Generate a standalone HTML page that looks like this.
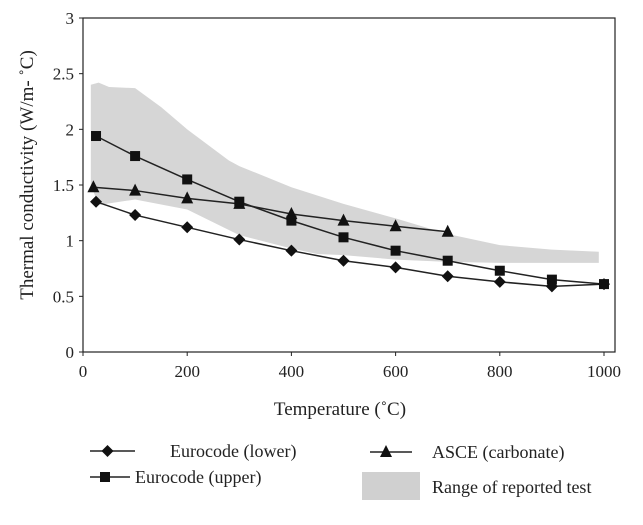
<!DOCTYPE html>
<html><head><meta charset="utf-8"><style>
body{margin:0;background:#fff}
svg text{font-family:"Liberation Serif",serif;fill:#222}
</style></head><body>
<svg width="643" height="520">
<g id="plot"></g>
<g id="legend"></g>
</svg>
<script>
const ticksX=[0,200,400,600,800,1000];
const ticksY=[0,0.5,1,1.5,2,2.5,3];
const tempLower=[25,100,200,300,400,500,600,700,800,900,1000];
const valLower=[1.35,1.23,1.12,1.01,0.91,0.82,0.76,0.68,0.63,0.59,0.61];
const tempUpper=[25,100,200,300,400,500,600,700,800,900,1000];
const valUpper=[1.94,1.76,1.55,1.35,1.18,1.03,0.91,0.82,0.73,0.65,0.61];
const tempAsce=[20,100,200,300,400,500,600,700];
const valAsce=[1.48,1.45,1.38,1.33,1.24,1.18,1.13,1.08];
const bandUpperT=[15,30,50,100,150,200,280,300,400,500,600,700,800,900,990];
const bandUpperV=[2.4,2.42,2.38,2.37,2.2,2.0,1.72,1.67,1.48,1.33,1.2,1.06,0.96,0.92,0.9];
const bandLowerT=[990,900,800,700,600,500,450,400,300,200,100,30,15];
const bandLowerV=[0.8,0.8,0.8,0.81,0.83,0.87,0.88,0.93,1.05,1.28,1.37,1.32,1.5];

const NS="http://www.w3.org/2000/svg";
const X0=83,X1=604,Y0=352,Y1=18,R=615;
const sx=t=>X0+(X1-X0)*t/1000, sy=v=>Y0-(Y0-Y1)*v/3;
const plot=document.getElementById('plot');
function mk(tag,a,p){const e=document.createElementNS(NS,tag);for(const k in a)e.setAttribute(k,a[k]);(p||plot).appendChild(e);return e;}

let pts=bandUpperT.map((t,i)=>sx(t)+','+sy(bandUpperV[i])).concat(bandLowerT.map((t,i)=>sx(t)+','+sy(bandLowerV[i])));
const band=mk('polygon',{points:pts.join(' '),fill:'#d6d6d6'});



const fr=mk('rect',{x:X0,y:Y1,width:R-X0,height:Y0-Y1,fill:'none',stroke:'#222','stroke-width':1.2});


ticksX.forEach(t=>{
  mk('line',{x1:sx(t),x2:sx(t),y1:Y0,y2:Y0+4,stroke:'#222'});
  const tx=mk('text',{x:sx(t),y:Y0+25,'text-anchor':'middle','font-size':17});
  tx.textContent=t;
  
  
});
ticksY.forEach(v=>{
  mk('line',{x1:X0-4,x2:X0,y1:sy(v),y2:sy(v),stroke:'#222'});
  const tx=mk('text',{x:X0-9,y:sy(v)+6,'text-anchor':'end','font-size':17});
  tx.textContent=v;
  
  
});
const xt=mk('text',{x:340,y:415,'text-anchor':'middle','font-size':19});
xt.textContent='Temperature (˚C)';


const yt=mk('text',{x:0,y:0,'text-anchor':'middle','font-size':19,transform:'translate(33,175) rotate(-90)'});
yt.textContent='Thermal conductivity (W/m- ˚C)';



function marker(type,x,y,p){
  if(type==='d')return mk('polygon',{points:`${x},${y-6} ${x+6},${y} ${x},${y+6} ${x-6},${y}`,fill:'#111'},p);
  if(type==='s')return mk('rect',{x:x-5,y:y-5,width:10,height:10,fill:'#111'},p);
  return mk('polygon',{points:`${x},${y-7} ${x+6},${y+5} ${x-6},${y+5}`,fill:'#111'},p);
}
function series(T,V,type,name){
  const g=mk('g',{});
  
  
  mk('polyline',{points:T.map((t,i)=>sx(t)+','+sy(V[i])).join(' '),fill:'none',stroke:'#222','stroke-width':1.5},g);
  T.forEach((t,i)=>{const m=marker(type,sx(t),sy(V[i]),g);
    
    });
}
series(tempAsce,valAsce,'t','asce-carbonate-series');
series(tempUpper,valUpper,'s','eurocode-upper-series');
series(tempLower,valLower,'d','eurocode-lower-series');

const lg=document.getElementById('legend');
function entry(type,x1,x2,y,tx,ty,label,name){
  const g=mk('g',{},lg);
  
  
  mk('line',{x1:x1,x2:x2,y1:y,y2:y,stroke:'#222','stroke-width':1.5},g);
  marker(type,(x1+x2)/2-5,y,g);
  const t=mk('text',{x:tx,y:ty,'font-size':18},g);t.textContent=label;
}
entry('d',90,135,451,170,457,'Eurocode (lower)','legend-eurocode-lower');
entry('s',90,130,477,135,483,'Eurocode (upper)','legend-eurocode-upper');
entry('t',370,412,452,432,458,'ASCE (carbonate)','legend-asce');
const g=mk('g',{},lg);


mk('rect',{x:362,y:472,width:58,height:28,fill:'#d0d0d0'},g);
const t=mk('text',{x:432,y:493,'font-size':18},g);t.textContent='Range of reported test';
</script>
</body></html>
